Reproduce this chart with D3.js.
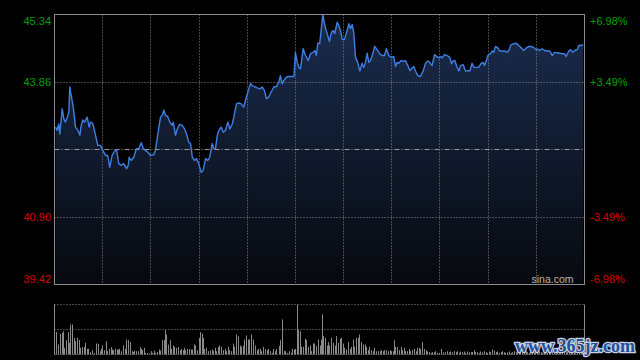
<!DOCTYPE html>
<html><head><meta charset="utf-8">
<script src="https://cdn.jsdelivr.net/npm/d3@7"></script>
<style>html,body{margin:0;padding:0;background:#000;}svg{display:block;}</style>
</head><body>
<script>
// ---- data ----
const minutes = [0.5,1.2,1.9,2.4,3.5,4.2,5.0,5.8,6.5,6.9,7.7,8.5,9.5,10.6,11.5,12.1,12.8,13.6,14.8,15.7,16.3,17.3,18.6,19.6,20.8,21.9,23.1,24.1,25.0,26.1,27.2,28.1,29.1,30.2,31.4,32.6,33.4,33.8,34.7,35.9,37.1,38.2,39.3,40.2,41.2,42.2,43.5,45.0,45.7,46.8,48.0,48.8,49.5,50.3,51.3,52.2,53.3,53.8,54.8,55.6,56.7,57.8,58.9,59.8,60.8,61.6,62.4,63.4,64.3,65.3,66.4,67.3,68.4,69.4,70.3,71.4,72.1,72.9,73.7,74.4,75.5,76.4,77.4,78.5,79.4,80.5,81.2,82.4,83.5,84.5,85.7,86.9,88.0,88.8,89.5,90.6,91.8,93.0,94.1,95.1,96.0,97.0,98.1,99.3,100.5,101.6,102.3,103.1,103.8,105.1,106.1,107.6,108.4,109.1,109.9,110.6,111.4,112.6,113.7,114.9,115.9,117.1,117.9,118.6,119.2,120.1,121.5,122.4,123.5,124.5,125.4,126.2,126.9,128.0,128.7,129.5,130.3,131.3,132.5,133.3,134.0,134.8,135.5,136.3,137.3,138.3,139.2,140.1,140.8,141.6,142.3,143.1,144.3,145.0,146.1,147.3,148.4,149.4,150.3,151.4,152.5,153.6,154.4,155.2,155.9,157.0,157.9,158.9,160.0,160.9,161.7,162.7,163.5,164.5,165.7,167.0,168.0,169.0,169.9,171.0,172.1,173.0,174.0,174.8,175.6,176.6,177.8,179.0,179.8,180.5,181.3,182.0,183.1,183.8,185.1,186.1,187.2,188.1,189.1,189.9,191.1,192.1,193.2,194.1,194.7,195.6,196.2,197.4,198.2,198.9,199.7,200.7,201.6,202.7,203.8,205.0,205.7,206.8,208.0,209.2,210.2,211.3,212.5,213.7,214.8,215.9,217.0,217.8,218.9,219.8,220.8,221.9,223.1,224.3,225.4,226.4,227.6,228.8,229.9,230.9,231.7,232.9,233.7,234.7,235.6,236.7,237.4,238.5,239.4];
const prices = [42.87,42.80,42.94,42.72,43.27,43.05,42.98,43.09,43.20,43.75,43.53,43.31,42.87,42.80,42.69,42.91,43.03,42.98,43.09,42.87,42.98,42.96,42.69,42.47,42.47,42.36,42.25,42.25,41.99,42.25,42.34,42.38,42.07,42.03,42.07,41.96,42.03,42.21,42.14,42.21,42.40,42.40,42.53,42.40,42.36,42.32,42.25,42.27,42.36,42.72,43.09,43.13,43.24,43.13,43.10,42.98,42.91,42.98,42.69,42.83,42.93,42.91,42.83,42.72,42.54,42.51,42.21,42.14,42.18,42.07,41.88,41.92,42.18,42.14,42.21,42.51,42.40,42.40,42.69,42.80,42.87,42.76,42.80,42.98,42.83,42.94,43.09,43.38,43.40,43.38,43.31,43.53,43.71,43.83,43.78,43.76,43.73,43.71,43.75,43.67,43.49,43.53,43.64,43.75,43.76,43.86,44.00,43.82,43.89,43.97,43.98,43.98,43.98,44.51,44.29,44.18,44.15,44.59,44.44,44.33,44.48,44.51,44.55,44.44,44.71,44.70,45.34,45.10,44.92,44.75,44.95,44.99,44.92,45.17,45.10,44.99,44.79,44.79,44.99,45.14,45.03,45.12,44.95,44.40,44.29,44.10,44.27,44.18,44.29,44.49,44.29,44.33,44.51,44.64,44.57,44.48,44.44,44.44,44.59,44.44,44.40,44.42,44.20,44.29,44.27,44.33,44.31,44.33,44.22,44.11,44.15,44.20,44.10,44.00,43.98,44.11,44.27,44.32,44.29,44.22,44.46,44.42,44.39,44.42,44.39,44.46,44.44,44.40,44.26,44.32,44.33,44.22,44.10,44.22,44.24,44.10,44.11,44.10,44.27,44.18,44.18,44.18,44.27,44.29,44.22,44.33,44.44,44.48,44.54,44.51,44.64,44.61,44.54,44.54,44.54,44.51,44.55,44.68,44.70,44.71,44.66,44.61,44.55,44.61,44.64,44.64,44.62,44.57,44.58,44.55,44.59,44.55,44.54,44.54,44.44,44.51,44.50,44.49,44.48,44.48,44.42,44.54,44.57,44.51,44.55,44.57,44.66,44.66,44.68];
const volMinutes = [0.5,1.5,2.4,3.2,3.9,4.5,5.3,6.0,6.5,7.2,8.0,8.7,9.5,10.3,11.2,11.5,12.5,13.3,13.7,14.5,15.1,16.0,17.1,17.8,18.6,18.9,19.6,20.5,21.1,21.7,22.3,23.1,23.9,24.6,25.4,26.1,26.6,27.3,28.1,28.8,29.4,30.2,31.1,31.7,32.6,33.2,34.1,34.9,35.6,36.2,36.8,37.7,38.6,39.3,39.7,40.4,41.2,42.0,42.7,43.5,44.2,45.0,45.7,46.5,47.2,47.7,48.8,49.5,49.9,50.7,51.3,52.1,52.8,53.6,54.3,55.2,55.8,56.7,57.4,58.1,58.6,59.3,60.1,60.8,61.6,62.4,63.1,63.8,64.6,65.3,66.1,66.6,67.3,67.9,68.8,69.4,70.3,71.1,71.7,72.5,73.2,73.9,74.7,75.5,76.2,77.0,77.8,78.5,79.2,80.0,80.7,81.5,82.3,83.0,83.8,84.5,85.3,86.0,86.8,87.5,88.3,89.2,89.8,90.7,91.5,92.2,93.0,93.7,94.5,95.2,96.0,96.6,97.5,98.3,99.0,99.8,100.5,101.6,102.3,102.9,103.8,104.6,105.4,106.1,106.9,107.6,108.4,109.1,109.7,110.4,111.1,111.7,112.4,113.3,114.0,114.7,115.5,116.2,117.0,117.7,118.5,119.2,120.0,120.5,121.0,121.7,122.3,123.2,123.8,124.5,125.3,126.0,126.8,127.6,128.3,129.1,129.8,130.6,131.3,132.1,132.8,133.6,134.4,135.1,135.8,136.6,137.3,138.1,138.9,139.6,140.4,141.1,141.9,142.6,143.4,144.1,144.9,145.7,146.4,147.2,147.9,148.7,149.4,150.2,150.9,151.7,152.5,153.1,153.6,154.4,155.2,155.9,156.7,157.5,158.2,158.9,159.7,160.4,161.2,162.0,162.7,163.5,164.2,165.0,165.7,166.5,167.2,168.0,168.8,169.5,170.3,171.0,171.8,172.5,173.3,174.0,175.1,176.0,176.7,177.8,178.5,179.3,180.1,180.8,181.6,182.4,183.1,183.8,184.6,185.3,186.1,186.9,187.6,188.4,189.1,189.9,190.6,191.4,192.1,192.9,193.7,194.4,195.2,195.9,196.7,197.4,198.2,198.9,199.7,200.5,201.2,202.0,202.7,203.5,204.2,205.0,205.7,206.5,207.3,208.0,208.8,209.5,210.3,211.0,211.8,212.5,213.3,214.1,214.8,215.5,216.3,217.0,217.8,218.6,219.3,220.1,220.8,221.6,222.3,223.1,223.8,224.6,225.4,226.1,226.9,227.6,228.4,229.1,229.9,230.7,231.4,232.2,232.9,233.7,234.5,235.2,235.9,236.7,237.4,238.2,238.9,239.5];
const volumes = [447,200,413,433,467,133,287,447,233,600,600,333,267,333,287,133,147,147,233,113,113,47,87,33,87,220,213,67,113,180,87,267,67,113,147,100,87,113,100,100,113,67,180,113,300,287,247,67,47,80,67,67,147,113,87,133,33,33,20,67,33,80,33,47,100,80,287,287,487,400,200,287,113,180,153,133,153,87,113,87,133,87,113,113,100,100,200,180,87,333,447,420,333,113,133,67,80,100,67,133,67,153,180,153,87,113,67,153,87,67,220,153,400,367,180,153,180,300,380,300,300,400,300,180,87,113,113,67,153,100,87,113,67,33,113,67,113,167,287,700,67,67,33,67,33,113,100,113,1000,500,467,153,153,313,287,153,180,67,220,220,167,300,180,300,800,367,333,180,247,180,333,233,180,367,233,313,333,220,133,100,247,113,153,300,153,333,333,400,247,200,200,153,87,153,87,67,133,67,67,67,87,67,87,87,67,87,67,67,287,153,153,87,153,87,133,67,67,113,67,87,113,67,133,133,113,247,113,87,60,47,33,47,47,67,33,33,113,47,47,67,47,60,47,67,47,67,33,60,47,60,33,60,47,47,47,80,47,47,33,60,47,67,47,33,60,47,100,80,47,60,33,47,67,47,33,47,60,33,47,67,47,33,47,60,33,47,67,47,33,47,60,47,33,47,67,47,33,60,47,40,47,33,60,47,33,47,67,47,33,47,60,47,33,47,67,47,33,47,60,47,80,67];
const priceTicks = [45.34, 43.86, 40.90, 39.42];
const pctTicks = ["+6.98%", "+3.49%", "-3.49%", "-6.98%"];
const prevClose = 42.38;
const volMax = 1000;

// ---- layout ----
const W = 640, H = 360;
const L = 54.5, R = 584.5, T = 14.5, B = 284.5;
const VT = 304.5, VB = 354.5;
const svg = d3.select("body").append("svg").attr("width", W).attr("height", H).style("background", "#000");

const x = d3.scaleLinear().domain([0, 240]).range([L, R]);
const y = d3.scaleLinear().domain([39.42, 45.34]).range([B, T]);
const yv = d3.scaleLinear().domain([0, volMax]).range([VB, VT]);
const snap = v => Math.floor(v) + 0.5;

const defs = svg.append("defs");
const grad = defs.append("linearGradient").attr("id", "fillg")
  .attr("gradientUnits", "userSpaceOnUse").attr("x1", 0).attr("y1", T).attr("x2", 0).attr("y2", B);
grad.append("stop").attr("offset", "0%").attr("stop-color", "#1a2c4e");
grad.append("stop").attr("offset", "100%").attr("stop-color", "#07090e");

const data = minutes.map((m, i) => ({m, p: prices[i]}));

// area
svg.append("path").datum(data)
  .attr("d", d3.area().x(d => x(d.m)).y0(B).y1(d => y(d.p)))
  .attr("fill", "url(#fillg)");

// grid
const gridColor = "#8a8a8a";
const g = svg.append("g");
d3.range(1, 11).forEach(k => {
  const xx = snap(L + (R - L) * k / 11);
  g.append("line").attr("x1", xx).attr("x2", xx).attr("y1", T).attr("y2", B)
    .attr("stroke", gridColor).attr("stroke-dasharray", "1,2");
});
[priceTicks[1], priceTicks[2]].forEach(p => {
  const yy = snap(y(p));
  g.append("line").attr("x1", L).attr("x2", R).attr("y1", yy).attr("y2", yy)
    .attr("stroke", gridColor).attr("stroke-dasharray", "1,2");
});
g.append("line").attr("x1", L).attr("x2", R).attr("y1", snap(y(prevClose))).attr("y2", snap(y(prevClose)))
  .attr("stroke", "#9a9a9a").attr("stroke-dasharray", "5,2,1,2");

// line
svg.append("path").datum(data)
  .attr("d", d3.line().x(d => x(d.m)).y(d => y(d.p)))
  .attr("fill", "none").attr("stroke", "#3f7fe4").attr("stroke-width", 1.4).attr("stroke-linejoin", "round");

// border
svg.append("rect").attr("x", L).attr("y", T).attr("width", R - L).attr("height", B - T)
  .attr("fill", "none").attr("stroke", "#8c8c8c");

// labels
const lab = svg.append("g").style("font-family", "'Liberation Sans', Arial, sans-serif").style("font-size", "11px");
priceTicks.forEach((p, i) => {
  let yy = y(p) + 4;
  if (i === 0) yy = y(p) + 10;
  if (i === priceTicks.length - 1) yy = y(p) - 2;
  const col = p > prevClose ? "#00a000" : "#d80000";
  lab.append("text").attr("x", L - 3.5).attr("y", yy).attr("text-anchor", "end").attr("fill", col).text(p.toFixed(2));
  lab.append("text").attr("x", R + 5.5).attr("y", yy).attr("text-anchor", "start").attr("fill", col).text(pctTicks[i]);
});
svg.append("text").attr("x", R - 11).attr("y", B - 1.5).attr("text-anchor", "end")
  .style("font-family", "'Liberation Sans', Arial, sans-serif").style("font-size", "10.5px")
  .attr("fill", "#b4b4b4").text("sina.com");

// volume panel
const vg = svg.append("g");
[VT, snap(yv(volMax / 2)), VB].forEach(yy => {
  vg.append("line").attr("x1", L).attr("x2", R).attr("y1", yy).attr("y2", yy)
    .attr("stroke", gridColor).attr("stroke-dasharray", "1,2");
});
vg.append("line").attr("x1", L).attr("x2", L).attr("y1", VT).attr("y2", VB).attr("stroke", "#8c8c8c");
vg.append("line").attr("x1", R).attr("x2", R).attr("y1", VT).attr("y2", VB).attr("stroke", "#8c8c8c");
vg.selectAll("rect.v").data(volumes).enter().append("rect")
  .attr("x", (d, i) => Math.round(x(volMinutes[i])))
  .attr("width", 1)
  .attr("y", d => yv(d))
  .attr("height", d => VB - yv(d))
  .attr("fill", "#8a8a8a");

// watermark
svg.append("text").attr("x", 515).attr("y", 352)
  .style("font-family", "'Liberation Serif', 'DejaVu Serif', serif").style("font-size", "18px").style("font-weight", "bold")
  .attr("fill", "#1f4f9c").attr("stroke", "#c8d2e2").attr("stroke-width", 2.5).attr("paint-order", "stroke")
  .text("www.365jz.com");
</script>
</body></html>
